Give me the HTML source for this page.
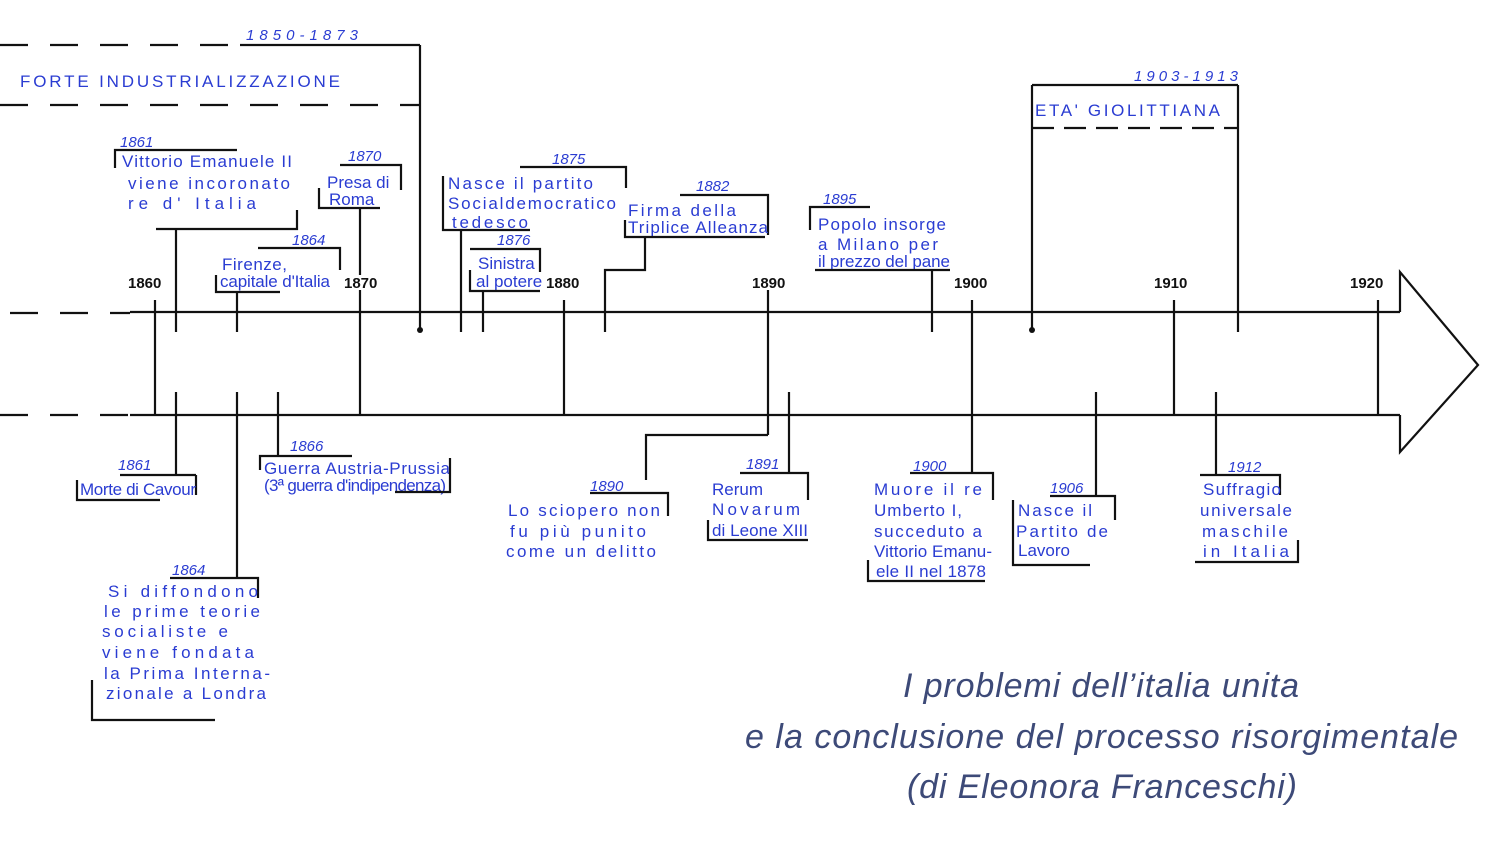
<!DOCTYPE html>
<html><head><meta charset="utf-8"><style>
html,body{margin:0;padding:0;background:#fff;}
svg{display:block}
.b{fill:#2a3cd2;font-family:"Liberation Sans",sans-serif;font-size:17px}
.y{fill:#2a3cd2;font-family:"Liberation Sans",sans-serif;font-size:15px;font-style:italic}
.k{fill:#111;font-family:"Liberation Sans",sans-serif;font-size:15px;font-weight:bold}
.t{fill:#3d4a78;font-family:"Liberation Sans",sans-serif;font-size:34px;font-style:italic;font-weight:300}
line,polyline,path{stroke:#111;stroke-width:2.2;fill:none}
.d{stroke-dasharray:28 22}
</style></head><body>
<svg width="1509" height="855" viewBox="0 0 1509 855">
<!-- main arrow -->
<line class="d" x1="10" y1="313" x2="130" y2="313"/>
<line x1="130" y1="312" x2="1400" y2="312"/>
<line class="d" x1="0" y1="415" x2="130" y2="415"/>
<line x1="130" y1="415" x2="1400" y2="415"/>
<polyline points="1400,312 1400,272 1478,365 1400,452 1400,415"/>
<!-- year ticks -->
<g>
<line x1="155" y1="300" x2="155" y2="415"/><line x1="360" y1="290" x2="360" y2="415"/>
<line x1="564" y1="300" x2="564" y2="415"/><line x1="768" y1="290" x2="768" y2="435"/>
<line x1="972" y1="300" x2="972" y2="473"/><line x1="1174" y1="300" x2="1174" y2="415"/>
<line x1="1378" y1="300" x2="1378" y2="415"/>
</g>
<text class="k" x="128" y="288">1860</text><text class="k" x="344" y="288">1870</text>
<text class="k" x="546" y="288">1880</text><text class="k" x="752" y="288">1890</text>
<text class="k" x="954" y="288">1900</text><text class="k" x="1154" y="288">1910</text>
<text class="k" x="1350" y="288">1920</text>
<!-- 1850-1873 -->
<line class="d" x1="0" y1="45" x2="240" y2="45"/><line x1="240" y1="45" x2="420" y2="45"/>
<line class="d" x1="0" y1="105" x2="420" y2="105"/>
<line x1="420" y1="45" x2="420" y2="330"/><circle cx="420" cy="330" r="3" fill="#111"/>
<text class="y" x="246" y="40" textLength="112">1850-1873</text>
<text class="b" x="20" y="87" textLength="320">FORTE  INDUSTRIALIZZAZIONE</text>
<!-- 1861 VE II -->
<text class="y" x="120" y="147">1861</text>
<polyline points="115,168 115,150 237,150"/>
<text class="b" x="122" y="167" textLength="170">Vittorio Emanuele II</text>
<text class="b" x="128" y="189" textLength="162">viene incoronato</text>
<text class="b" x="128" y="209" textLength="128">re  d' Italia</text>
<polyline points="156,229 297,229 297,210"/><line x1="176" y1="229" x2="176" y2="332"/>
<!-- 1864 Firenze -->
<text class="y" x="292" y="245">1864</text>
<polyline points="258,248 340,248 340,270"/>
<text class="b" x="222" y="270" textLength="65">Firenze,</text>
<text class="b" x="220" y="287" font-size="15" textLength="110">capitale d'Italia</text>
<polyline points="216,275 216,292 280,292"/><line x1="237" y1="292" x2="237" y2="332"/>
<!-- 1870 Roma -->
<text class="y" x="348" y="161">1870</text>
<polyline points="340,165 401,165 401,190"/>
<text class="b" x="327" y="188">Presa di</text>
<text class="b" x="329" y="205" font-size="14">Roma</text>
<polyline points="319,188 319,208 380,208"/><line x1="360" y1="208" x2="360" y2="275"/>
<!-- 1875 -->
<text class="y" x="552" y="164">1875</text>
<polyline points="520,167 626,167 626,188"/>
<text class="b" x="448" y="189" textLength="145">Nasce  il  partito</text>
<text class="b" x="448" y="209" textLength="168">Socialdemocratico</text>
<text class="b" x="452" y="228" textLength="76">tedesco</text>
<polyline points="443,176 443,230 530,230"/><line x1="461" y1="230" x2="461" y2="332"/>
<!-- 1876 -->
<text class="y" x="497" y="245">1876</text>
<polyline points="470,249 540,249 540,272"/>
<text class="b" x="478" y="269" font-size="15">Sinistra</text>
<text class="b" x="476" y="287" font-size="14">al potere</text>
<polyline points="470,270 470,291 540,291"/><line x1="483" y1="291" x2="483" y2="332"/>
<!-- 1882 -->
<text class="y" x="696" y="191">1882</text>
<polyline points="680,195 768,195 768,235"/>
<text class="b" x="628" y="216" textLength="108">Firma della</text>
<text class="b" x="628" y="233" font-size="15" textLength="140">Triplice Alleanza</text>
<polyline points="625,220 625,237 765,237"/>
<polyline points="645,237 645,270 605,270 605,332"/>
<!-- 1895 -->
<text class="y" x="823" y="204">1895</text>
<polyline points="810,230 810,207 870,207"/>
<text class="b" x="818" y="230" textLength="128">Popolo  insorge</text>
<text class="b" x="818" y="250" textLength="120">a Milano per</text>
<text class="b" x="818" y="267" font-size="15" textLength="132">il prezzo del pane</text>
<line x1="815" y1="270" x2="950" y2="270"/><line x1="932" y1="270" x2="932" y2="332"/>
<!-- 1903-1913 -->
<text class="y" x="1134" y="81" textLength="104">1903-1913</text>
<line x1="1032" y1="85" x2="1238" y2="85"/>
<line x1="1032" y1="128" x2="1238" y2="128" stroke-dasharray="22 10"/>
<line x1="1032" y1="85" x2="1032" y2="330"/><circle cx="1032" cy="330" r="3" fill="#111"/>
<line x1="1238" y1="85" x2="1238" y2="332"/>
<text class="b" x="1035" y="116" font-size="15" textLength="185">ETA'  GIOLITTIANA</text>
<!-- bottom -->
<line x1="176" y1="392" x2="176" y2="475"/>
<text class="y" x="118" y="470">1861</text>
<line x1="120" y1="475" x2="196" y2="475"/><line x1="196" y1="475" x2="196" y2="495"/>
<text class="b" x="80" y="495" textLength="116">Morte di Cavour</text>
<polyline points="77,480 77,500 160,500"/>

<line x1="237" y1="392" x2="237" y2="578"/>
<text class="y" x="172" y="575">1864</text>
<polyline points="170,578 258,578 258,598"/>
<text class="b" x="108" y="597" textLength="150">Si  diffondono</text>
<text class="b" x="104" y="617" textLength="156">le  prime  teorie</text>
<text class="b" x="102" y="637" textLength="126">socialiste   e</text>
<text class="b" x="102" y="658" textLength="152">viene  fondata</text>
<text class="b" x="104" y="679" textLength="166">la  Prima  Interna-</text>
<text class="b" x="106" y="699" textLength="160">zionale  a  Londra</text>
<polyline points="92,680 92,720 215,720"/>

<line x1="278" y1="392" x2="278" y2="456"/>
<text class="y" x="290" y="451">1866</text>
<polyline points="260,470 260,456 352,456"/>
<text class="b" x="264" y="474" font-size="16" textLength="186">Guerra Austria-Prussia</text>
<text class="b" x="264" y="491" font-size="13" textLength="182">(3ª guerra d'indipendenza)</text>
<polyline points="450,458 450,492 395,492"/>

<polyline points="768,435 646,435 646,480"/>
<text class="y" x="590" y="491">1890</text>
<polyline points="590,493 668,493 668,516"/>
<text class="b" x="508" y="516" textLength="152">Lo  sciopero non</text>
<text class="b" x="510" y="537" textLength="136">fu  più  punito</text>
<text class="b" x="506" y="557" textLength="150">come  un  delitto</text>

<line x1="789" y1="392" x2="789" y2="473"/>
<text class="y" x="746" y="469">1891</text>
<polyline points="740,473 808,473 808,500"/>
<text class="b" x="712" y="495">Rerum</text>
<text class="b" x="712" y="515" textLength="88">Novarum</text>
<text class="b" x="712" y="536" font-size="14" textLength="96">di Leone XIII</text>
<polyline points="708,520 708,540 808,540"/>

<text class="y" x="913" y="471">1900</text>
<polyline points="910,473 993,473 993,500"/>
<text class="b" x="874" y="495" textLength="108">Muore  il  re</text>
<text class="b" x="874" y="516" textLength="88">Umberto I,</text>
<text class="b" x="874" y="537" textLength="108">succeduto a</text>
<text class="b" x="874" y="557" font-size="15" textLength="118">Vittorio Emanu-</text>
<text class="b" x="876" y="577" font-size="15" textLength="110">ele II nel 1878</text>
<polyline points="868,560 868,581 985,581"/>

<line x1="1096" y1="392" x2="1096" y2="496"/>
<text class="y" x="1050" y="493">1906</text>
<polyline points="1050,496 1115,496 1115,520"/>
<text class="b" x="1018" y="516" textLength="74">Nasce il</text>
<text class="b" x="1016" y="537" textLength="92">Partito de</text>
<text class="b" x="1018" y="556">Lavoro</text>
<polyline points="1013,500 1013,565 1090,565"/>

<line x1="1216" y1="392" x2="1216" y2="475"/>
<text class="y" x="1228" y="472">1912</text>
<polyline points="1200,475 1280,475 1280,495"/>
<text class="b" x="1203" y="495" font-size="15" textLength="78">Suffragio</text>
<text class="b" x="1200" y="516" textLength="92">universale</text>
<text class="b" x="1202" y="537" textLength="86">maschile</text>
<text class="b" x="1203" y="557" textLength="86">in  Italia</text>
<polyline points="1195,562 1298,562 1298,540"/>
<!-- title -->
<text class="t" x="903" y="697" textLength="396">I problemi dell’italia unita</text>
<text class="t" x="745" y="748" textLength="713">e la conclusione del processo risorgimentale</text>
<text class="t" x="907" y="798" textLength="390">(di Eleonora Franceschi)</text>
</svg>
</body></html>
